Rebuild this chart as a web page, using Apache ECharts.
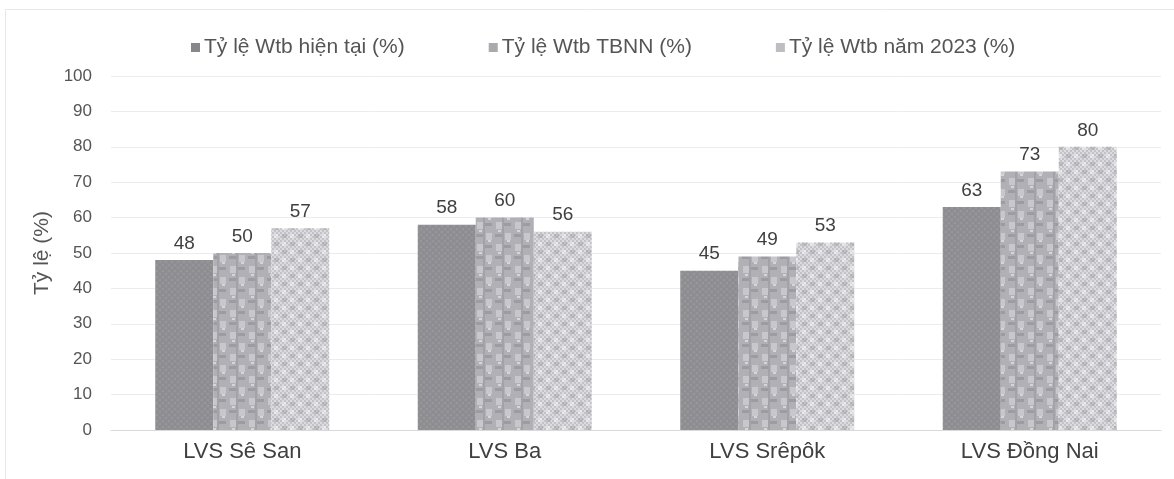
<!DOCTYPE html>
<html>
<head>
<meta charset="utf-8">
<style>
  html, body { margin: 0; padding: 0; background: #ffffff; }
  #chart { width: 1174px; height: 479px; }
</style>
<script src="https://cdn.jsdelivr.net/npm/echarts@6/dist/echarts.min.js"></script>
</head>
<body>
<div id="chart"></div>
<script>
const categories = ['LVS Sê San', 'LVS Ba', 'LVS Srêpôk', 'LVS Đồng Nai'];
const seriesNames = ['Tỷ lệ Wtb hiện tại (%)', 'Tỷ lệ Wtb TBNN (%)', 'Tỷ lệ Wtb năm 2023 (%)'];
const currentRate = [48, 58, 45, 63];
const averageRate = [50, 60, 49, 73];
const rate2023 = [57, 56, 53, 80];
const yTicks = [0, 10, 20, 30, 40, 50, 60, 70, 80, 90, 100];

// Textured fills for the three bar series
function makePattern(kind) {
  const c = document.createElement('canvas');
  const ctx = c.getContext('2d');
  if (kind === 0) {
    c.width = 6; c.height = 6;
    ctx.fillStyle = '#8f8f93';
    ctx.fillRect(0, 0, 6, 6);
    ctx.fillStyle = '#97979b';
    ctx.fillRect(0, 0, 2, 2); ctx.fillRect(3, 3, 2, 2);
    ctx.fillStyle = '#88888c';
    ctx.fillRect(3, 0, 1, 1); ctx.fillRect(0, 4, 1, 1);
  } else if (kind === 1) {
    c.width = 19; c.height = 22;
    ctx.fillStyle = '#b0b0b5';
    ctx.fillRect(0, 0, 19, 22);
    ctx.fillStyle = '#c8c8cc';
    ctx.fillRect(2, 2, 6, 7); ctx.fillRect(11, 13, 6, 7);
    ctx.fillStyle = '#9c9ca2';
    ctx.fillRect(10, 3, 7, 3); ctx.fillRect(1, 14, 7, 3);
    ctx.fillStyle = '#a2a2a8';
    ctx.fillRect(8, 0, 2, 22);
    ctx.fillStyle = '#d6d6da';
    ctx.fillRect(4, 10, 3, 2); ctx.fillRect(13, 20, 3, 2);
  } else {
    c.width = 16; c.height = 16;
    for (let y = 0; y < 16; y += 2) {
      for (let x = 0; x < 16; x += 2) {
        ctx.fillStyle = ((x + y) / 2) % 2 === 0 ? '#c2c2c7' : '#dcdce0';
        ctx.fillRect(x, y, 2, 2);
      }
    }
    ctx.fillStyle = 'rgba(150,150,158,0.4)';
    ctx.fillRect(2, 2, 5, 4); ctx.fillRect(10, 10, 5, 4);
    ctx.fillStyle = 'rgba(245,245,248,0.55)';
    ctx.fillRect(10, 2, 4, 4); ctx.fillRect(2, 10, 4, 4);
  }
  return { image: c, repeat: 'repeat' };
}

const fills = [makePattern(0), makePattern(1), makePattern(2)];
const legendColors = ['#88888c', '#a9a9ae', '#bdbdc2'];
const dataSets = [currentRate, averageRate, rate2023];

const chart = echarts.init(document.getElementById('chart'), null, { renderer: 'canvas' });
const fontFamily = '"Liberation Sans", Arial, sans-serif';

chart.setOption({
  backgroundColor: '#ffffff',
  animation: false,
  textStyle: { fontFamily: fontFamily },
  graphic: [{
    type: 'rect',
    shape: { x: 5.5, y: 9.5, width: 1180, height: 480 },
    style: { fill: 'none', stroke: '#e8e8e8', lineWidth: 1 },
    silent: true
  }],
  legend: {
    top: 32,
    left: 186,
    itemWidth: 9,
    itemHeight: 9,
    itemGap: 84,
    icon: 'rect',
    textStyle: { color: '#555555', fontSize: 21, fontFamily: fontFamily, padding: [0, 0, 0, -1] },
    data: seriesNames.map((n, i) => ({ name: n, itemStyle: { color: legendColors[i] } }))
  },
  grid: { left: 111, right: 13, top: 76, bottom: 49 },
  xAxis: {
    type: 'category',
    data: categories,
    axisLine: { lineStyle: { color: '#d9d9d9', width: 1 } },
    axisTick: { show: false },
    axisLabel: { color: '#404040', fontSize: 22, margin: 11, fontFamily: fontFamily }
  },
  yAxis: {
    type: 'value',
    min: yTicks[0],
    max: yTicks[yTicks.length - 1],
    interval: yTicks[1] - yTicks[0],
    name: 'Tỷ lệ (%)',
    nameLocation: 'middle',
    nameGap: 53,
    nameTextStyle: { color: '#555555', fontSize: 21, fontFamily: fontFamily },
    axisLine: { show: false },
    axisTick: { show: false },
    axisLabel: { color: '#555555', fontSize: 17, margin: 19, fontFamily: fontFamily },
    splitLine: { lineStyle: { color: '#ececf0', width: 1 } }
  },
  series: dataSets.map((d, i) => ({
    name: seriesNames[i],
    type: 'bar',
    data: d,
    barWidth: 58,
    barGap: '0%',
    itemStyle: { color: fills[i] },
    label: {
      show: true,
      position: 'top',
      distance: 7,
      color: '#404040',
      fontSize: 19,
      fontFamily: fontFamily
    }
  }))
});
</script>
</body>
</html>
